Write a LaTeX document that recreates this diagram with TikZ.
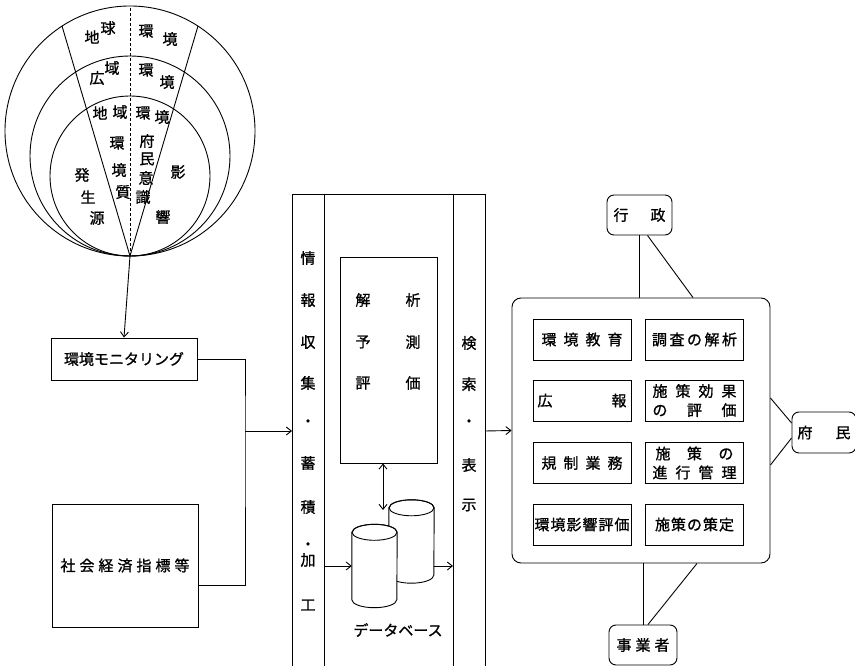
\documentclass[tikz,border=0pt]{standalone}
\usepackage{fontspec}
\newfontfamily\jpfont[FakeBold=1]{Noto Sans CJK JP}
\usetikzlibrary{arrows.meta}
\newcommand{\jsp}[1]{\hspace{#1pt}}
\tikzset{
  thinline/.style={line width=0.9pt},
  arr/.style={thinline,-{Straight Barb[length=5pt,width=8pt]}},
  dblarr/.style={thinline,{Straight Barb[length=5pt,width=8pt]}-{Straight Barb[length=5pt,width=8pt]}},
  box/.style={draw,thinline,inner sep=0pt,minimum width=98pt,minimum height=41pt,align=center},
  actor/.style={draw,thinline,rounded corners=7pt,inner sep=0pt,minimum height=40pt},
  dbbody/.style={inner sep=0pt,minimum width=45pt,minimum height=83pt},
}

\begin{document}
\begin{tikzpicture}[x=1pt,y=-1pt,font=\jpfont\fontsize{15}{19}\selectfont]
  \useasboundingbox (0,0) rectangle (855,666);
  \def\cx{130}

  % environment circles
  \coordinate (apex) at (\cx,256);
  \draw[thinline] (\cx,131) circle[radius=125];
  \draw[thinline] (\cx,156) circle[radius=100];
  \draw[thinline] (\cx,176) circle[radius=80];
  \draw[thinline] (62,26) -- (apex) -- (198,26);
  \draw[thinline,dash pattern=on 3pt off 2pt] (apex) -- (\cx,6);
  \foreach \ch/\x/\y [count=\i] in {
    地/92/37,球/108/28,環/146/31,境/170/39,
    広/97/78,域/112/68,環/146/70,境/167/82,
    地/100/113,域/120/112,環/143/113,境/162/117,
    環/117/143,境/119/170,質/123/192,
    府/147/141,民/147/159,意/146/178,識/143/197,
    発/82/175,生/88/197,源/97/218,
    影/178/172,響/163/217} {
    \node[inner sep=0pt] (c\i) at (\x,\y) {\ch};
  }

  % inputs
  \node[box,minimum width=146pt,minimum height=42pt] (mon) at (124,359) {環境モニタリング};
  \node[box,minimum width=146pt,minimum height=123pt] (soc) at (125,565.5)
    {社\jsp{4}会\jsp{4}経\jsp{4}済\jsp{4}指\jsp{4}標\jsp{4}等};
  \draw[arr] (apex) -- (mon.north);
  \coordinate (jn) at (245,431);
  \draw[thinline] (mon.east) -| (jn) |- ([yshift=-19.5pt]soc.east);

  % processing columns
  \draw[thinline] (292,666) |- (485,194) -- (485,666);
  \draw[thinline] (324,194) -- (324,666);
  \draw[thinline] (453,194) -- (453,666);
  \coordinate (inL) at (292,431);
  \coordinate (inR) at (324,566);
  \coordinate (outL) at (453,566);
  \coordinate (outR) at (485,431);
  \draw[arr] (jn) -- (inL);
  \foreach \ch/\y [count=\i] in {情/258,報/300,収/342,集/383,・/423,蓄/463,積/507,・/546,加/560,工/605} {
    \node[inner sep=0pt] (in\i) at (308,\y) {\ch};
  }
  \foreach \ch/\y [count=\i] in {検/343,索/384,・/423,表/465,示/505} {
    \node[inner sep=0pt] (out\i) at (469,\y) {\ch};
  }

  % analysis and database
  \node[box,minimum width=97pt,minimum height=206pt] (ana) at (388.5,360) {};
  \foreach \l/\r/\y [count=\i] in {解/析/300,予/測/342,評/価/383} {
    \node[inner sep=0pt] (anaL\i) at (363,\y) {\l};
    \node[inner sep=0pt] (anaR\i) at (413,\y) {\r};
  }
  \node[dbbody] (db2) at (411.5,541.5) {};
  \node[dbbody] (db1) at (374.5,566) {};
  \foreach \c in {db2,db1} {
    \draw[thinline,fill=white] ([yshift=-8pt]\c.north west) -- ([yshift=8pt]\c.south west)
      arc[start angle=180,end angle=360,x radius=22.5pt,y radius=8pt]
      -- ([yshift=-8pt]\c.north east)
      arc[start angle=0,end angle=180,x radius=22.5pt,y radius=8pt] -- cycle;
    \draw[thinline] ([yshift=-8pt]\c.north) ellipse[x radius=22.5pt,y radius=8pt];
  }
  \coordinate (dbtop) at (383,510);
  \draw[dblarr] (ana.south -| dbtop) -- (dbtop);
  \draw[arr] (inR) -- (db1.west);
  \draw[arr] (db2.east |- outL) -- (outL);
  \node (dblabel) at (398,630) {データベース};

  % uses
  \node[draw,thinline,rounded corners=9pt,minimum width=258pt,minimum height=265pt] (big) at (641,430.5) {};
  \draw[arr] (outR) -- (big.west);
  \foreach \x/\y/\name/\txt in {
    582/339.5/edu/{環\jsp{7}境\jsp{7}教\jsp{7}育},
    694.5/339.5/survey/{調\jsp{2.5}査\jsp{2.5}の\jsp{2.5}解\jsp{2.5}析},
    582/400.5/pr/{広\jsp{59}報},
    694.5/400.5/effect/{施\jsp{8}策\jsp{8}効\jsp{8}果\\の\jsp{19.5}評\jsp{19.5}価},
    582/463/reg/{規\jsp{7}制\jsp{7}業\jsp{7}務},
    694.5/463/progress/{施\jsp{16.5}策\jsp{16.5}の\\進\jsp{8}行\jsp{8}管\jsp{8}理},
    582/524.5/eia/{環\jsp{1}境\jsp{1}影\jsp{1}響\jsp{1}評\jsp{1}価},
    694.5/524.5/policy/{施\jsp{1}策\jsp{1}の\jsp{1}策\jsp{1}定}} {
    \node[box] (\name) at (\x,\y) {\txt};
  }

  % actors
  \node[actor,minimum width=65pt] (gyo) at (639.5,215) {行\jsp{22}政};
  \node[actor,minimum width=64pt,minimum height=41pt] (fumin) at (824,432.5) {府\jsp{23}民};
  \node[actor,minimum width=68pt] (jigyo) at (643,645) {事\jsp{4}業\jsp{4}者};
  \draw[thinline] (gyo.south) -- (gyo.south |- big.north);
  \draw[thinline] ([xshift=8pt]gyo.south) -- ([xshift=52pt]big.north);
  \draw[thinline] (jigyo.north) -- (jigyo.north |- big.south);
  \draw[thinline] ([xshift=5pt]jigyo.north) -- ([xshift=56pt]big.south);
  \draw[thinline] ([yshift=32.5pt]big.east) -- ([yshift=9.5pt]fumin.west);
  \draw[thinline] ([yshift=-34.5pt]big.east) -- ([yshift=-5.5pt]fumin.west);
\end{tikzpicture}
\end{document}
